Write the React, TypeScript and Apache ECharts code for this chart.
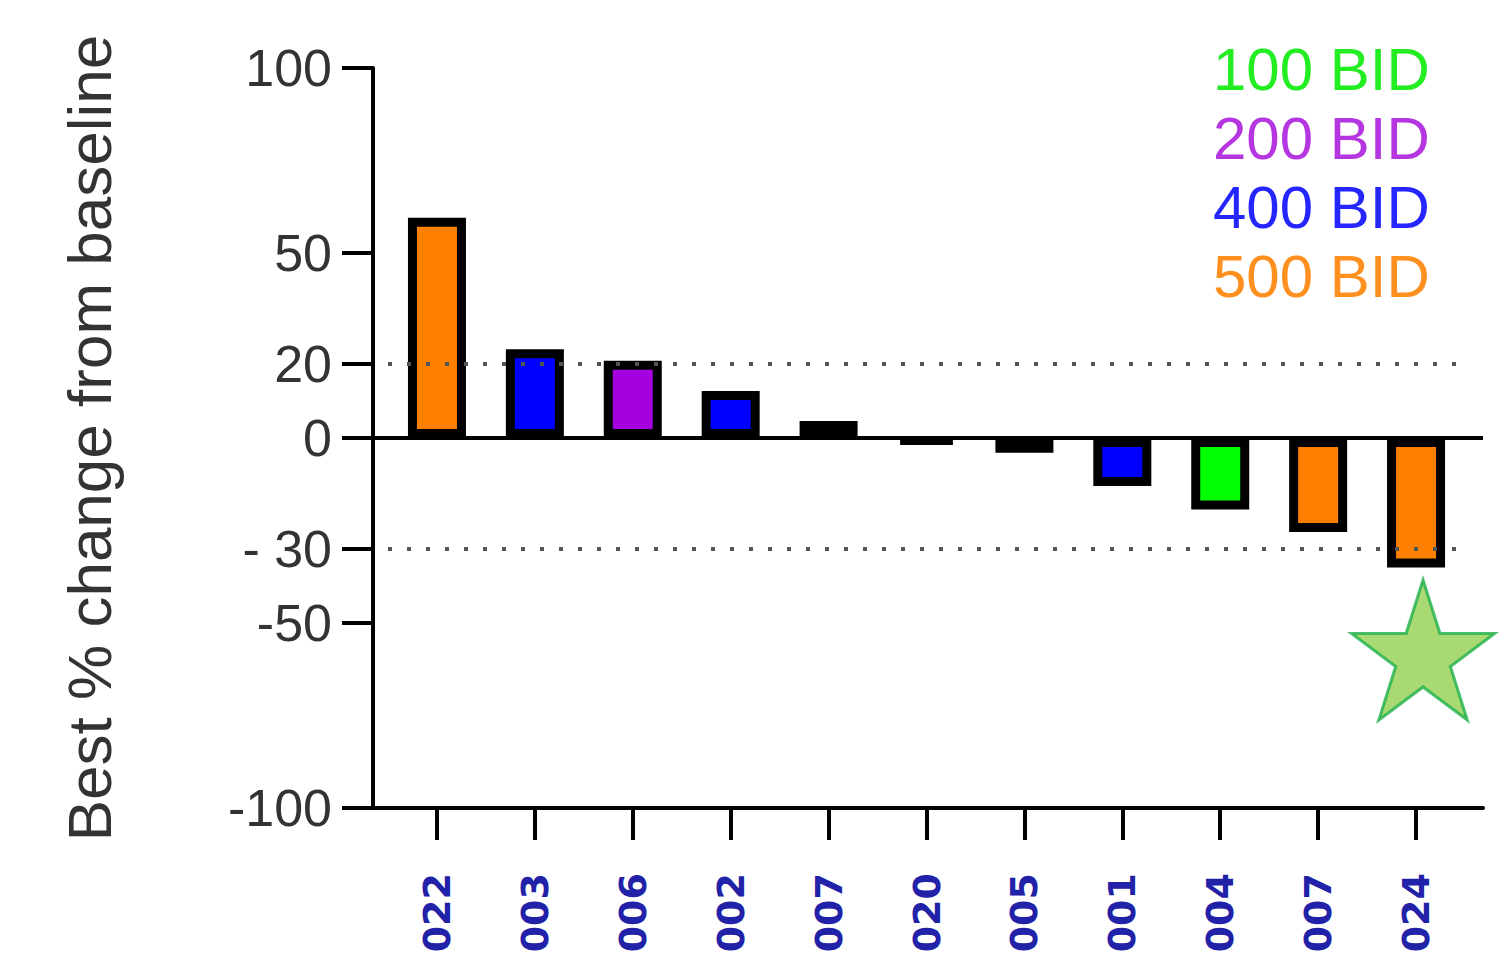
import React, { useEffect, useRef } from "react";
import * as echarts from "echarts";

const categories = ["022", "003", "006", "002", "007", "020", "005", "001", "004", "007", "024"];
const values = [59.5, 24, 20.9, 12.7, 4.6, -1.4, -4, -13, -19.3, -25.4, -35];
const doses = ["500 BID", "400 BID", "200 BID", "400 BID", "400 BID", "400 BID", "400 BID", "400 BID", "100 BID", "500 BID", "500 BID"];
const legendNames = ["100 BID", "200 BID", "400 BID", "500 BID"];
const barColors = ["#00ff00", "#a400e0", "#0000ff", "#ff8000"];
const legendColors = ["#22ee22", "#b535e0", "#2525ff", "#ff9020"];
const yTicks = [100, 50, 20, 0, -30, -50, -100];
const yTickLabels = ["100", "50", "20", "0", "- 30", "-50", "-100"];
const refLines = [20, -30];
const starPoint = [10, -57.3];

function starPath(): string {
  const pts: string[] = [];
  for (let k = 0; k < 10; k++) {
    const r = k % 2 === 0 ? 50 : 19.1;
    const a = (-90 + 36 * k) * Math.PI / 180;
    pts.push((50 + r * Math.cos(a)).toFixed(2) + " " + (50 + r * Math.sin(a)).toFixed(2));
  }
  return "path://M" + pts.join(" L") + " Z";
}

export default function App() {
  const ref = useRef<HTMLDivElement>(null);
  useEffect(() => {
    const chart = echarts.init(ref.current!, undefined, { renderer: "svg" });
    const font = "'Liberation Sans', Arial, sans-serif";
    const barSeries = legendNames.map((name, gi) => ({
      name,
      type: "bar",
      xAxisIndex: 1,
      yAxisIndex: 1,
      stack: "all",
      barWidth: 58,
      z: 3,
      itemStyle: { color: barColors[gi], borderColor: "#000", borderWidth: 9 },
      data: values.map((v, i) => (doses[i] === name ? v : null)),
    }));
    chart.setOption({
      animation: false,
      textStyle: { fontFamily: font },
      grid: [
        { left: 373, right: 24, top: 68, bottom: 162 },
        { left: 388, right: 42, top: 68, bottom: 162 },
      ],
      legend: {
        orient: "vertical",
        left: 1203,
        top: 34,
        icon: "none",
        itemWidth: 0,
        itemHeight: 0,
        itemGap: 9,
        selectedMode: false,
        textStyle: { fontSize: 60, fontFamily: font },
        data: legendNames.map((n, i) => ({ name: n, textStyle: { color: legendColors[i] } })),
      },
      xAxis: [
        {
          type: "value",
          gridIndex: 0,
          min: 0,
          max: 1,
          axisLine: { show: true, onZero: false, lineStyle: { color: "#000", width: 4 } },
          axisTick: { show: false },
          axisLabel: { show: false },
          splitLine: { show: false },
        },
        {
          type: "category",
          gridIndex: 1,
          data: categories,
          axisLine: { show: false, onZero: false },
          axisTick: { show: true, alignWithLabel: true, length: 32, lineStyle: { color: "#000", width: 4 } },
          axisLabel: {
            rotate: 90,
            margin: 65,
            fontSize: 38,
            fontWeight: "bold",
            fontFamily: "'DejaVu Sans', sans-serif",
            color: "#2222a8",
          },
        },
      ],
      yAxis: [
        {
          type: "value",
          gridIndex: 0,
          min: -100,
          max: 100,
          axisLine: { show: true, onZero: false, lineStyle: { color: "#000", width: 4 } },
          axisTick: { show: true, length: 31, customValues: yTicks, lineStyle: { color: "#000", width: 4 } },
          axisLabel: {
            customValues: yTicks,
            formatter: (v: number) => yTickLabels[yTicks.indexOf(v)] ?? String(v),
            fontSize: 52,
            color: "#333",
            margin: 41,
          },
          splitLine: { show: false },
          name: "Best % change from baseline",
          nameLocation: "middle",
          nameRotate: 90,
          nameGap: 253,
          nameTextStyle: { fontSize: 62, color: "#333" },
        },
        {
          type: "value",
          gridIndex: 1,
          min: -100,
          max: 100,
          show: false,
          splitLine: { show: false },
        },
      ],
      series: [
        {
          type: "line",
          xAxisIndex: 0,
          yAxisIndex: 0,
          data: [[0, 0], [1, 0]],
          showSymbol: false,
          symbol: "none",
          silent: true,
          z: 4,
          lineStyle: { color: "#000", width: 4 },
        },
        {
          type: "scatter",
          xAxisIndex: 1,
          yAxisIndex: 1,
          z: 1,
          symbolSize: 0,
          silent: true,
          data: [[0, 0]],
          markLine: {
            silent: true,
            symbol: "none",
            label: { show: false },
            lineStyle: { color: "#555", width: 4, type: [4, 15] },
            data: refLines.map((y) => ({ yAxis: y })),
          },
        },
        ...barSeries,
        {
          type: "scatter",
          xAxisIndex: 1,
          yAxisIndex: 1,
          z: 5,
          symbol: starPath(),
          symbolSize: [143, 140],
          symbolOffset: [7, 0],
          itemStyle: { color: "#92d050", borderColor: "#1fb04a", borderWidth: 3 },
          data: [starPoint],
        },
      ],
    });
    return () => chart.dispose();
  }, []);
  return (
    <div
      ref={ref}
      style={{ position: "fixed", left: 0, top: 0, width: 1507, height: 970, background: "#fff" }}
    />
  );
}
